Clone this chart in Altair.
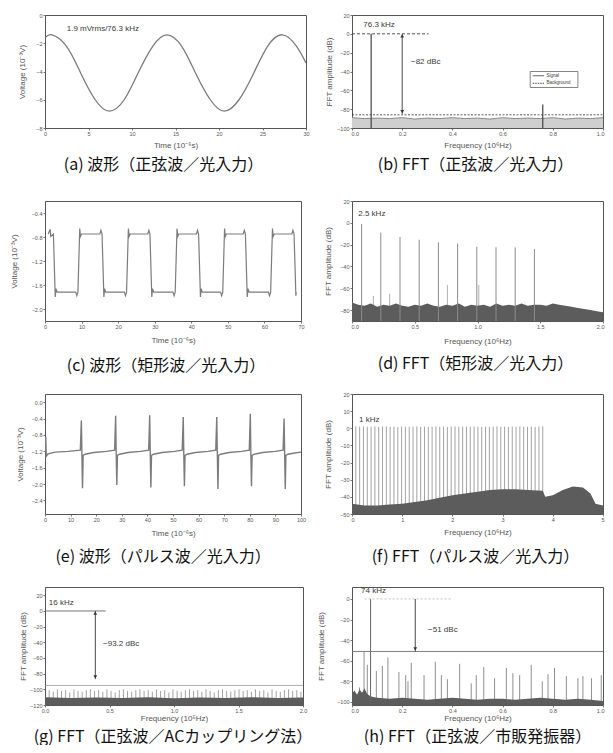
import altair as alt
import pandas as pd

FONT = "Liberation Sans"
CJK = "Noto Sans CJK JP"
AX = "#555555"
LINE = "#7c7c7c"
DARK = "#5c5c5c"
TXT = "#3a3a3a"

# ---------------- (a) sine waveform ----------------
a_t = [0.0, 0.8, 2.46, 4.1, 5.77, 7.4, 9.1, 10.7, 12.4, 14.0, 15.7, 17.3, 19.0, 20.6,
       22.3, 24.0, 25.6, 27.3, 28.9, 30.0]
a_v = [-1.6, -1.4, -2.2, -4.1, -6.0, -6.8, -6.0, -4.1, -2.2, -1.4, -2.2, -4.1, -6.0, -6.8,
       -6.0, -4.1, -2.2, -1.4, -2.2, -3.4]

# ---------------- (b) FFT sine ----------------
b_nx = [0.0, 0.05, 0.1, 0.15, 0.2, 0.25, 0.3, 0.35, 0.4, 0.45, 0.5, 0.55, 0.6, 0.65, 0.7,
        0.75, 0.8, 0.85, 0.9, 0.95, 1.0]
b_ny = [-89, -90, -89.5, -90, -89, -90.5, -89.5, -90, -89, -90, -89.5, -90.5, -89, -90,
        -89.5, -90, -89, -90.5, -89.5, -90, -89]
b_pf = [0.0763, 0.76]
b_pdb = [0, -75]

# ---------------- (c) square waveform ----------------
c_t = [0.9, 1.4, 1.6, 2.3,
       2.8, 3.0, 3.3, 8.4, 8.7, 9.0,
       9.5, 9.7, 10.0, 15.0, 15.3, 15.6,
       16.1, 16.3, 16.6, 21.7, 22.0, 22.3,
       22.8, 23.0, 23.3, 28.1, 28.4, 28.7,
       29.2, 29.4, 29.7, 35.0, 35.3, 35.6,
       36.1, 36.3, 36.6, 41.4, 41.7, 42.0,
       42.5, 42.7, 43.0, 48.0, 48.3, 48.6,
       49.1, 49.3, 49.6, 54.2, 54.5, 54.8,
       55.3, 55.5, 55.8, 61.1, 61.4, 61.7,
       62.2, 62.4, 62.7, 67.5, 67.8, 68.1,
       68.6, 68.7]
c_v = [-0.75, -0.67, -0.79, -0.75,
       -1.80, -1.66, -1.72, -1.72, -1.78, -1.72,
       -0.66, -0.79, -0.75, -0.75, -0.69, -0.75,
       -1.80, -1.66, -1.72, -1.72, -1.78, -1.72,
       -0.66, -0.79, -0.75, -0.75, -0.69, -0.75,
       -1.80, -1.66, -1.72, -1.72, -1.78, -1.72,
       -0.66, -0.79, -0.75, -0.75, -0.69, -0.75,
       -1.80, -1.66, -1.72, -1.72, -1.78, -1.72,
       -0.66, -0.79, -0.75, -0.75, -0.69, -0.75,
       -1.80, -1.66, -1.72, -1.72, -1.78, -1.72,
       -0.66, -0.79, -0.75, -0.75, -0.69, -0.75,
       -1.78, -1.72]

# ---------------- (d) FFT square ----------------
d_nx = [0.0, 0.05, 0.1, 0.15, 0.2, 0.25, 0.3, 0.35, 0.4, 0.45,
        0.5, 0.55, 0.6, 0.65, 0.7, 0.75, 0.8, 0.85, 0.9, 0.95,
        1.0, 1.05, 1.1, 1.15, 1.2, 1.25, 1.3, 1.35, 1.4, 1.45,
        1.5, 1.55, 1.6, 1.65, 1.7, 1.75, 1.8, 1.85, 1.9, 1.95,
        2.0]
d_ny = [-73, -75, -76, -74, -77, -75, -76, -74, -76, -77,
        -75, -76, -74, -76, -77, -75, -76, -74, -77, -75,
        -76, -75, -77, -74, -76, -75, -76, -74, -76, -75,
        -75, -76, -74, -75, -76, -77, -78, -79, -80, -81,
        -82]
d_pf = [0.0765, 0.2295, 0.3825, 0.5355, 0.6885, 0.8415, 0.9945, 1.1475, 1.3005, 1.4535]
d_pdb = [-1, -9, -13, -15.5, -18, -19, -22, -22.5, -22.5, -24]
d_sf = [0.17, 0.30, 0.76, 1.01]
d_sdb = [-67, -65, -57, -57]

# ---------------- (e) pulse waveform ----------------
e_t = [0.0, 0.3, 0.5, 1.2, 4.0, 9.0,
       13.8, 14.2, 14.4, 14.65, 14.9, 15.7, 19.0, 24.0,
       27.2, 27.6, 27.8, 28.05, 28.3, 29.1, 32.4, 37.3,
       40.5, 40.9, 41.1, 41.35, 41.6, 42.4, 45.7, 50.6,
       53.6, 54.0, 54.2, 54.45, 54.7, 55.5, 58.8, 63.7,
       66.7, 67.1, 67.3, 67.55, 67.8, 68.6, 71.9, 76.8,
       79.8, 80.2, 80.4, 80.65, 80.9, 81.7, 85.0, 89.9,
       93.0, 93.4, 93.6, 93.85, 94.1, 94.9, 97.5, 100.0]
e_v = [-1.20, -0.85, -1.32, -1.26, -1.22, -1.20,
       -1.17, -0.45, -1.20, -2.10, -1.30, -1.27, -1.23, -1.20,
       -1.17, -0.33, -1.20, -2.02, -1.30, -1.27, -1.23, -1.20,
       -1.17, -0.32, -1.20, -2.08, -1.30, -1.27, -1.23, -1.20,
       -1.17, -0.36, -1.20, -2.05, -1.30, -1.27, -1.23, -1.20,
       -1.17, -0.36, -1.20, -2.12, -1.30, -1.27, -1.23, -1.20,
       -1.17, -0.28, -1.20, -2.05, -1.30, -1.27, -1.23, -1.20,
       -1.17, -0.40, -1.20, -2.12, -1.30, -1.27, -1.24, -1.22]

# ---------------- (f) FFT pulse ----------------
f_x = [0.076, 0.152, 0.228, 0.304, 0.38, 0.456, 0.532, 0.608, 0.684, 0.76,
       0.836, 0.912, 0.988, 1.064, 1.14, 1.216, 1.292, 1.368, 1.444, 1.52,
       1.596, 1.672, 1.748, 1.824, 1.9, 1.976, 2.052, 2.128, 2.204, 2.28,
       2.356, 2.432, 2.508, 2.584, 2.66, 2.736, 2.812, 2.888, 2.964, 3.04,
       3.116, 3.192, 3.268, 3.344, 3.42, 3.496, 3.572, 3.648, 3.724, 3.8]
f_h = [1.2, 1.0, 1.1, 0.9, 1.0, 1.1, 0.8, 1.0, 1.1, 0.9,
       1.0, 0.8, 1.1, 1.0, 0.9, 1.0, 1.1, 0.8, 1.0, 0.9,
       1.0, 1.1, 0.9, 1.0, 0.8, 1.0, 1.1, 0.9, 1.0, 1.0,
       0.9, 1.1, 1.0, 0.8, 1.0, 0.9, 1.0, 1.1, 0.9, 1.0,
       0.8, 1.0, 0.9, 1.1, 1.0, 0.9, 1.0, 0.8, 1.0, 1.1]
f_nx = [0.0, 0.25, 0.5, 0.75, 1.0, 1.25, 1.5, 1.75, 2.0, 2.25, 2.5, 2.75, 3.0, 3.25, 3.5,
        3.8, 3.85, 4.0, 4.2, 4.4, 4.6, 4.75, 4.85, 5.0]
f_ny = [-44, -45, -45, -44.5, -44, -43, -42, -40.5, -39, -38, -37, -36, -35.5, -35.5, -36,
        -36.5, -40, -39, -36, -34, -34.5, -38, -44, -45]

# ---------------- (g) FFT AC coupling ----------------
g_cx = [0.032, 0.064, 0.096, 0.128, 0.16, 0.192, 0.224, 0.256, 0.288, 0.32,
        0.352, 0.384, 0.416, 0.448, 0.48, 0.512, 0.544, 0.576, 0.608, 0.64,
        0.672, 0.704, 0.736, 0.768, 0.8, 0.832, 0.864, 0.896, 0.928, 0.96,
        0.992, 1.024, 1.056, 1.088, 1.12, 1.152, 1.184, 1.216, 1.248, 1.28,
        1.312, 1.344, 1.376, 1.408, 1.44, 1.472, 1.504, 1.536, 1.568, 1.6,
        1.632, 1.664, 1.696, 1.728, 1.76, 1.792, 1.824, 1.856, 1.888, 1.92,
        1.952, 1.984]
g_ch = [-101, -103, -100, -102, -101, -104, -100, -102, -103, -101,
        -100, -102, -101, -103, -100, -102, -104, -101, -100, -102,
        -103, -101, -100, -102, -101, -103, -100, -102, -101, -104,
        -100, -102, -103, -101, -100, -102, -101, -103, -100, -102,
        -104, -101, -100, -102, -103, -101, -100, -102, -101, -103,
        -100, -102, -101, -104, -100, -102, -103, -101, -100, -102,
        -101, -103]
g_nx = [0.0, 0.2, 0.4, 0.6, 0.8, 1.0, 1.2, 1.4, 1.6, 1.8, 2.0]
g_ny = [-110, -111, -110.5, -111, -110, -111.5, -110.5, -111, -110, -111, -110.5]

# ---------------- (h) FFT commercial oscillator ----------------
h_sf = [0.03, 0.048, 0.061, 0.097, 0.121, 0.143, 0.187, 0.214, 0.223, 0.236, 0.287, 0.332,
        0.356, 0.38, 0.429, 0.475, 0.495, 0.525, 0.568, 0.615, 0.641, 0.668, 0.714, 0.758,
        0.781, 0.807, 0.854, 0.90, 0.92, 0.954, 0.993]
h_sdb = [-86, -51, -64, -70, -65, -57, -71, -74, -80, -62, -74, -61,
         -74, -78, -63, -82, -74, -66, -77, -67, -72, -74, -64, -80,
         -73, -67, -75, -77, -75, -77, -74]
h_nx = [0.0, 0.01, 0.02, 0.03, 0.04, 0.05, 0.06, 0.07, 0.08, 0.1, 0.15, 0.2, 0.25, 0.3,
        0.35, 0.4, 0.45, 0.5, 0.55, 0.6, 0.65, 0.7, 0.75, 0.8, 0.85, 0.9, 0.95, 1.0]
h_ny = [-92, -89, -93, -88, -91, -87, -92, -94, -95, -96, -97, -96, -97, -98,
        -97, -96, -97, -98, -97, -97, -98, -97, -96, -97, -98, -97, -98, -99]

captions = ["(a) 波形（正弦波／光入力）", "(b) FFT（正弦波／光入力）",
            "(c) 波形（矩形波／光入力）", "(d) FFT（矩形波／光入力）",
            "(e) 波形（パルス波／光入力）", "(f) FFT（パルス波／光入力）",
            "(g) FFT（正弦波／ACカップリング法）", "(h) FFT（正弦波／市販発振器）"]


def X(dom, vals, fmt, title, ty=18, flush=False):
    kw = {}
    if flush:
        kw = dict(labelFlush=True, labelFlushOffset=1)
    return alt.X("x:Q", scale=alt.Scale(domain=dom, nice=False, zero=False),
                 axis=alt.Axis(values=vals, format=fmt, title=title, titleY=ty,
                               titleBaseline="middle", **kw))


def Y(dom, vals, fmt, title, tx=-24):
    return alt.Y("y:Q", scale=alt.Scale(domain=dom, nice=False, zero=False),
                 axis=alt.Axis(values=vals, format=fmt, title=title, titleX=tx,
                               titleBaseline="middle"))


def cap(text, dx, off):
    return alt.TitleParams(text=text, orient="bottom", anchor="middle", frame="group",
                           dx=dx, offset=off, baseline="top", font=CJK, fontSize=16,
                           fontWeight="normal", color="#111111")


def df(**kw):
    return pd.DataFrame(kw)


def label(x, y, s, size=8, align="left"):
    return alt.Chart(df(x=[x], y=[y], s=[s])).mark_text(
        align=align, baseline="middle", font=FONT, fontSize=size, color=TXT)


def vrule(xv, y1, y2, color, w=1.0):
    return alt.Chart(df(x=xv, y=y1, y2=y2)).mark_rule(color=color, strokeWidth=w, clip=True)


def hrule(x1, x2, yv, color, w=1.0, dash=None):
    kw = dict(color=color, strokeWidth=w, clip=True)
    if dash:
        kw["strokeDash"] = dash
    return alt.Chart(df(x=x1, x2=x2, y=yv)).mark_rule(**kw)


def head(x, y, shape):
    return alt.Chart(df(x=[x], y=[y])).mark_point(shape=shape, filled=True, size=14,
                                                  color="#333333", opacity=1)


# ---------- panel a ----------
xa = X([0, 30], [0, 5, 10, 15, 20, 25, 30], "d", "Time (10⁻⁶s)", 17.5)
ya = Y([-8, 0], [0, -2, -4, -6, -8], "d", "Voltage (10⁻³V)", -23)
pa = alt.layer(
    alt.Chart(df(x=a_t, y=a_v)).mark_line(color=LINE, strokeWidth=1.3, interpolate="natural",
                                          clip=True).encode(x=xa, y=ya),
    label(2.5, -1.0, "1.9 mVrms/76.3 kHz").encode(x=xa, y=ya, text="s:N"),
).properties(width=261, height=113, title=cap(captions[0], -12, 7))

# ---------- panel b ----------
xb = X([0, 1], [0, 0.2, 0.4, 0.6, 0.8, 1.0], ".1f", "Frequency (10⁶Hz)", 17.5, True)
yb = Y([-100, 20], [20, 0, -20, -40, -60, -80, -100], "d", "FFT amplitude (dB)", -23)
pb = alt.layer(
    alt.Chart(df(x=b_nx, y=b_ny)).mark_area(color="#cfcfcf", clip=True).encode(
        x=xb, y=yb, y2=alt.datum(-100)),
    alt.Chart(df(x=b_nx, y=b_ny)).mark_line(color="#8a8a8a", strokeWidth=1, clip=True).encode(x=xb, y=yb),
    hrule([0], [1], [-86], "#333333", 0.8, [2, 1.5]).encode(x=xb, x2="x2:Q", y=yb),
    vrule(b_pf, b_pdb, [-100, -100], "#444444", 1.2).encode(x=xb, y=yb, y2="y2:Q"),
    hrule([0], [0.305], [0], "#444444", 0.9, [3, 2]).encode(x=xb, x2="x2:Q", y=yb),
    vrule([0.2], [0], [-85], "#333333", 0.9).encode(x=xb, y=yb, y2="y2:Q"),
    head(0.2, -2.3, "triangle-up").encode(x=xb, y=yb),
    head(0.2, -82.7, "triangle-down").encode(x=xb, y=yb),
    label(0.045, 9, "76.3 kHz").encode(x=xb, y=yb, text="s:N"),
    label(0.235, -30, "−82 dBc").encode(x=xb, y=yb, text="s:N"),
    alt.Chart(df(x=[0.71], x2=[0.90], y=[-40], y2=[-57])).mark_rect(
        fill="white", stroke="#666666", strokeWidth=0.8).encode(x=xb, x2="x2:Q", y=yb, y2="y2:Q"),
    hrule([0.72], [0.765], [-44.5], "#555555", 0.9).encode(x=xb, x2="x2:Q", y=yb),
    hrule([0.72], [0.765], [-52.5], "#333333", 0.9, [1.5, 1]).encode(x=xb, x2="x2:Q", y=yb),
    label(0.775, -44.5, "Signal", 4.5).encode(x=xb, y=yb, text="s:N"),
    label(0.775, -52.5, "Background", 4.5).encode(x=xb, y=yb, text="s:N"),
).properties(width=251, height=113, title=cap(captions[1], -2, 7))

# ---------- panel c ----------
xc = X([0, 70], [0, 10, 20, 30, 40, 50, 60, 70], "d", "Time (10⁻⁶s)", 19.5)
yc = Y([-2.2, -0.2], [-0.4, -0.8, -1.2, -1.6, -2.0], ".1f", "Voltage (10⁻³V)", -31)
pc = alt.layer(
    alt.Chart(df(x=c_t, y=c_v)).mark_line(color=LINE, strokeWidth=1.2, clip=True).encode(x=xc, y=yc),
).properties(width=256, height=120, title=cap(captions[2], -7, 13))

# ---------- panel d ----------
xd = X([0, 2], [0, 0.5, 1.0, 1.5, 2.0], ".1f", "Frequency (10⁶Hz)", 20, True)
yd = Y([-90, 20], [20, 0, -20, -40, -60, -80], "d", "FFT amplitude (dB)", -24)
pd_ = alt.layer(
    vrule(d_sf, d_sdb, [-90] * len(d_sf), "#9a9a9a", 0.8).encode(x=xd, y=yd, y2="y2:Q"),
    alt.Chart(df(x=d_nx, y=d_ny)).mark_area(color=DARK, clip=True).encode(
        x=xd, y=yd, y2=alt.datum(-90)),
    vrule(d_pf, d_pdb, [-90] * len(d_pf), "#8c8c8c", 1.0).encode(x=xd, y=yd, y2="y2:Q"),
    label(0.05, 8.5, "2.5 kHz").encode(x=xd, y=yd, text="s:N"),
).properties(width=251, height=120, title=cap(captions[3], -2, 10.5))

# ---------- panel e ----------
xe = X([0, 100], [0, 10, 20, 30, 40, 50, 60, 70, 80, 90, 100], "d", "Time (10⁻⁶s)", 19.5)
ye = Y([-2.73, 0.2], [0.0, -0.4, -0.8, -1.2, -1.6, -2.0, -2.4], ".1f", "Voltage (10⁻³V)", -25)
pe = alt.layer(
    alt.Chart(df(x=e_t, y=e_v)).mark_line(color=LINE, strokeWidth=1.4, clip=True).encode(x=xe, y=ye),
).properties(width=256, height=120, title=cap(captions[4], -10, 11))

# ---------- panel f ----------
xf = X([0, 5], [0, 1, 2, 3, 4, 5], "d", "Frequency (10⁶Hz)", 18, True)
yf = Y([-50, 20], [20, 10, 0, -10, -20, -30, -40, -50], "d", "FFT amplitude (dB)", -24)
pf = alt.layer(
    vrule(f_x, f_h, [-50] * len(f_x), "#8c8c8c", 0.8).encode(x=xf, y=yf, y2="y2:Q"),
    alt.Chart(df(x=f_nx, y=f_ny)).mark_area(color=DARK, clip=True).encode(
        x=xf, y=yf, y2=alt.datum(-50)),
    label(0.14, 5, "1 kHz").encode(x=xf, y=yf, text="s:N"),
).properties(width=251, height=120, title=cap(captions[5], -2, 12.5))

# ---------- panel g ----------
xg = X([0, 2], [0, 0.5, 1.0, 1.5, 2.0], ".1f", "Frequency (10⁵Hz)", 13.5)
yg = Y([-120, 30.6], [20, 0, -20, -40, -60, -80, -100, -120], "d", "FFT amplitude (dB)", -22)
pg = alt.layer(
    vrule(g_cx, g_ch, [-120] * len(g_cx), "#8a8a8a", 0.8).encode(x=xg, y=yg, y2="y2:Q"),
    alt.Chart(df(x=g_nx, y=g_ny)).mark_area(color=DARK, clip=True).encode(
        x=xg, y=yg, y2=alt.datum(-120)),
    hrule([0], [2], [-95], "#9a9a9a", 0.8).encode(x=xg, x2="x2:Q", y=yg),
    hrule([0], [0.47], [0], "#666666", 0.9).encode(x=xg, x2="x2:Q", y=yg),
    vrule([0.39], [0], [-87], "#333333", 0.9).encode(x=xg, y=yg, y2="y2:Q"),
    head(0.39, -2.8, "triangle-up").encode(x=xg, y=yg),
    head(0.39, -84.2, "triangle-down").encode(x=xg, y=yg),
    label(0.03, 10.4, "16 kHz").encode(x=xg, y=yg, text="s:N"),
    label(0.45, -42, "−93.2 dBc").encode(x=xg, y=yg, text="s:N"),
).properties(width=258, height=118, title=cap(captions[6], -1, 6))

# ---------- panel h ----------
xh = X([0, 1], [0, 0.2, 0.4, 0.6, 0.8, 1.0], ".1f", "Frequency (10⁶Hz)", 13.5, True)
yh = Y([-103, 11.6], [0, -20, -40, -60, -80, -100], "d", "FFT amplitude (dB)", -31)
ph = alt.layer(
    vrule(h_sf, h_sdb, [-103] * len(h_sf), "#828282", 0.9).encode(x=xh, y=yh, y2="y2:Q"),
    alt.Chart(df(x=h_nx, y=h_ny)).mark_area(color=DARK, clip=True).encode(
        x=xh, y=yh, y2=alt.datum(-103)),
    vrule([0.074], [0], [-103], "#666666", 1.0).encode(x=xh, y=yh, y2="y2:Q"),
    hrule([0.05], [0.4], [0], "#bbbbbb", 0.9, [2, 2]).encode(x=xh, x2="x2:Q", y=yh),
    hrule([0], [1], [-51], "#707070", 0.9).encode(x=xh, x2="x2:Q", y=yh),
    vrule([0.252], [0], [-51], "#333333", 0.9).encode(x=xh, y=yh, y2="y2:Q"),
    head(0.252, -48.6, "triangle-down").encode(x=xh, y=yh),
    label(0.036, 8.0, "74 kHz").encode(x=xh, y=yh, text="s:N"),
    label(0.303, -30, "−51 dBc").encode(x=xh, y=yh, text="s:N"),
).properties(width=251, height=118, title=cap(captions[7], 0, 6))

chart = alt.concat(
    pa, pb, pc, pd_, pe, pf, pg, ph,
    columns=2, spacing={"row": 73, "column": 46}, bounds="flush", align="each",
).properties(
    padding={"top": 4, "left": 1, "right": 0, "bottom": 0}
).configure_axis(
    grid=False, domain=False, ticks=True, tickSize=2, tickColor=AX, tickWidth=0.8,
    labelFont=FONT, labelFontSize=5.5, labelColor=AX, labelPadding=1,
    labelFlush=False, labelOverlap=False,
    titleFont=FONT, titleFontSize=8, titleFontWeight="normal", titleColor=AX,
).configure_view(stroke="#555555", strokeWidth=1)

chart.save("out.html", embed_options={"renderer": "svg", "actions": False})
